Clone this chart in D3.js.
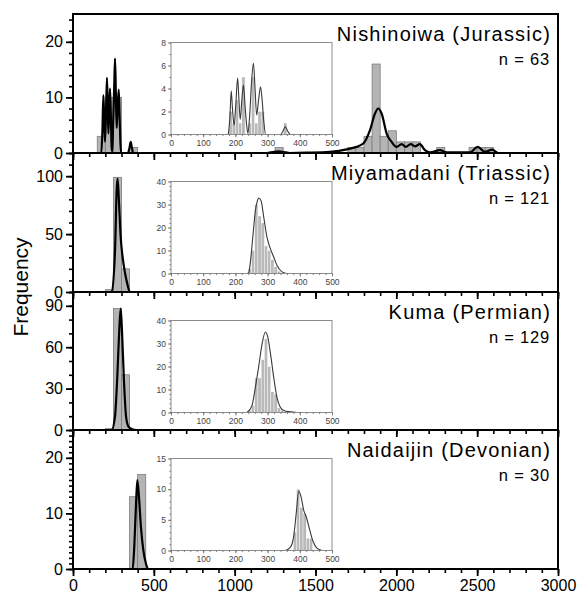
<!DOCTYPE html>
<html>
<head>
<meta charset="utf-8">
<script src="https://cdn.jsdelivr.net/npm/d3@7"></script>
<style>
body { margin: 0; background: #fff; }
svg { font-family: "Liberation Sans", Arial, sans-serif; }
</style>
</head>
<body>
<svg id="chart" width="577" height="595"></svg>
<script>
// Panel names and counts
var panelNames = ["Nishinoiwa (Jurassic)", "Miyamadani (Triassic)", "Kuma (Permian)", "Naidaijin (Devonian)"];
var panelN = ["n = 63", "n = 121", "n = 129", "n = 30"];

// Main histograms: [bin start, count], bins 50 wide
var mainBins1 = [[150,3],[200,10],[250,10],[350,1],[1250,1],[1700,1],[1750,1],[1800,3],[1850,16],[1900,3],[1950,4],[2000,2],[2050,2],[2100,2],[2250,1],[2450,1],[2500,1],[2550,1]];
var mainBins2 = [[200,2],[250,99],[300,20]];
var mainBins3 = [[200,1],[250,88],[300,40]];
var mainBins4 = [[350,13],[400,17]];

// Main density lines: [x, frequency]
var mainCurve1 = [[0,0],[175,0],[182,4],[188,10.4],[193,6],[198,2],[204,7],[210,13.5],[215,8],[219,3.5],[224,8],[229,11.6],[234,7],[239,1],[243,0.3],[248,5],[255,12],[260,17],[265,11],[270,4.5],[276,8],[283,11.4],[288,7],[293,2],[298,0],[340,0],[350,1],[357,2],[364,1],[372,0],[1200,0],[1270,0.3],[1340,0],[1450,0.05],[1590,0.2],[1693,0.65],[1795,1.7],[1837,4.1],[1868,7.1],[1888,8],[1909,7.1],[1940,3.5],[1971,2],[2002,1.1],[2033,1.6],[2059,1.1],[2088,1.6],[2115,1.2],[2146,1.6],[2177,0.5],[2208,0.1],[2270,0.5],[2311,0.1],[2455,0.1],[2503,1.1],[2548,0.2],[2593,0.6],[2630,0],[3000,0]];
var mainCurve2 = [[0,0],[240,0],[260,36],[270,88],[276,98],[284,79],[295,47.5],[307,30],[321,17],[336,7],[352,0],[3000,0]];
var mainCurve3 = [[0,0],[239,0],[260,10],[274,38.7],[286,72],[295,88],[303,72],[315,36],[328,10],[342,2.6],[363,0.7],[394,0],[3000,0]];
var mainCurve4 = [[0,0],[369,0],[379,4],[390,11.8],[398,16],[408,13],[420,7.6],[435,3.4],[451,1],[468,0],[3000,0]];

// Inset histograms: [bin start, count], bins 10 wide
var insetBins1 = [[180,2],[190,1],[200,3],[210,1],[220,5],[240,1],[250,5],[260,1],[270,2],[280,2],[350,1]];
var insetBins2 = [[240,2],[250,10],[260,30],[270,25],[280,22],[290,12],[300,10],[310,6],[320,3],[330,1]];
var insetBins3 = [[240,1],[250,3],[260,15],[270,15],[280,23],[290,32],[300,20],[310,9],[320,8],[330,2],[340,1]];
var insetBins4 = [[380,3],[390,10],[400,7],[410,6],[420,2],[430,2]];

// Inset density lines
var insetCurve1 = [[178,0],[183,1.5],[187,3.8],[191,2.2],[196,0.8],[201,2.5],[207,4.9],[211,3],[215,1.3],[220,3],[225,4.3],[230,2.5],[235,0.8],[239,0.1],[244,1.5],[250,4.5],[256,6.2],[261,4],[266,1.7],[272,3],[278,4.15],[283,3],[288,1.2],[294,0],[340,0],[348,0.3],[355,0.7],[362,0.3],[370,0]];
var insetCurve2 = [[236,0],[241,0.3],[246,4.3],[255,17.3],[262,27.3],[268,31.5],[272,32.8],[279.5,31.7],[288,24.5],[298,15.8],[308.5,10.8],[319,7.2],[329,3.6],[345,0.7],[358,0]];
var insetCurve3 = [[236,0],[251.5,3],[262,10.9],[272,19.6],[282.6,29.6],[293,35],[300,33.2],[308.5,26],[319,15.3],[329,6.6],[339.5,2.3],[350,0.9],[370.6,0.3],[391,0]];
var insetCurve4 = [[355,0],[370.6,0.5],[381,2.3],[389,6.1],[396.5,9.7],[403.7,8.8],[412,6.6],[420,5.5],[430.6,3.4],[441,1.5],[453,0.4],[469,0]];

// Axis ticks
var xTicks = [0, 500, 1000, 1500, 2000, 2500, 3000];
var yMax = [25, 120, 100, 25];
var yTicks = [[0,10,20],[0,50,100],[0,30,60,90],[0,10,20]];
var yMinorStep = [2, 10, 10, 1];
var insetXTicks = [0, 100, 200, 300, 400, 500];
var insetYMax = [8, 40, 40, 15];
var insetYTicks = [[0,2,4,6,8],[0,10,20,30,40],[0,10,20,30,40],[0,5,10,15]];
var insetYMinorStep = [1, 2, 2, 1];

var mainBins = [mainBins1, mainBins2, mainBins3, mainBins4];
var mainCurves = [mainCurve1, mainCurve2, mainCurve3, mainCurve4];
var insetBins = [insetBins1, insetBins2, insetBins3, insetBins4];
var insetCurves = [insetCurve1, insetCurve2, insetCurve3, insetCurve4];

// Layout
var panelTop = [14, 153, 292, 430],
    panelBottom = [153, 292, 430, 569];

var svg = d3.select("#chart");

var x = d3.scaleLinear().domain([0, 3000]).range([73, 558]);
var xIn = d3.scaleLinear().domain([0, 500]).range([171, 332]);

function styleAxis(g, color, width) {
    g.select(".domain").remove();
    g.selectAll("line").attr("stroke", color).attr("stroke-width", width);
}

panelNames.forEach(function(name, i) {
    var top = panelTop[i], bottom = panelBottom[i];
    var y = d3.scaleLinear().domain([0, yMax[i]]).range([bottom, top]);
    var g = svg.append("g").attr("class", "panel");

    // Main bars
    g.selectAll("rect.bar")
        .data(mainBins[i])
        .enter()
        .append("rect")
        .attr("class", "bar")
        .attr("x", function(d) { return x(d[0]); })
        .attr("width", function(d) { return x(d[0] + 50) - x(d[0]); })
        .attr("y", function(d) { return y(d[1]); })
        .attr("height", function(d) { return y(0) - y(d[1]); })
        .attr("fill", "#b4b4b4")
        .attr("stroke", "#7d7d7d")
        .attr("stroke-width", 0.8);

    // Main density line
    var line = d3.line()
        .x(function(d) { return x(d[0]); })
        .y(function(d) { return y(d[1]); })
        .curve(d3.curveMonotoneX);

    g.append("path")
        .datum(mainCurves[i])
        .attr("d", line)
        .attr("fill", "none")
        .attr("stroke", "#000")
        .attr("stroke-width", 2.2);

    // Inset
    var iTop = top + 28.5, iBottom = top + 120.5;
    var yIn = d3.scaleLinear().domain([0, insetYMax[i]]).range([iBottom, iTop]);
    var ig = g.append("g").attr("class", "inset");

    ig.selectAll("rect.ibar")
        .data(insetBins[i])
        .enter()
        .append("rect")
        .attr("class", "ibar")
        .attr("x", function(d) { return xIn(d[0]); })
        .attr("width", function(d) { return xIn(d[0] + 10) - xIn(d[0]); })
        .attr("y", function(d) { return yIn(d[1]); })
        .attr("height", function(d) { return yIn(0) - yIn(d[1]); })
        .attr("fill", "#b9b9b9")
        .attr("stroke", "#fff")
        .attr("stroke-width", 0.4);

    var iline = d3.line()
        .x(function(d) { return xIn(d[0]); })
        .y(function(d) { return yIn(d[1]); })
        .curve(d3.curveMonotoneX);

    ig.append("path")
        .datum(insetCurves[i])
        .attr("d", iline)
        .attr("fill", "none")
        .attr("stroke", "#3a3a3a")
        .attr("stroke-width", 1.1);

    ig.append("rect")
        .attr("x", xIn(0))
        .attr("y", iTop)
        .attr("width", xIn(500) - xIn(0))
        .attr("height", iBottom - iTop)
        .attr("fill", "none")
        .attr("stroke", "#8c8c8c")
        .attr("stroke-width", 1);

    // inset axes
    var ixMinor = d3.range(0, 501, 20);
    ig.append("g")
        .attr("transform", "translate(0," + iBottom + ")")
        .call(d3.axisBottom(xIn).tickValues(ixMinor).tickSize(1.6).tickFormat(""))
        .call(styleAxis, "#666", 0.8);
    ig.append("g")
        .attr("transform", "translate(0," + iBottom + ")")
        .call(d3.axisBottom(xIn).tickValues(insetXTicks).tickSize(3).tickPadding(2))
        .call(styleAxis, "#666", 0.8)
        .selectAll("text")
        .attr("font-size", 8.5)
        .attr("fill", "#444");

    var iyMinor = d3.range(0, insetYMax[i] + 0.01, insetYMinorStep[i]);
    ig.append("g")
        .attr("transform", "translate(" + xIn(0) + ",0)")
        .call(d3.axisLeft(yIn).tickValues(iyMinor).tickSize(1.6).tickFormat(""))
        .call(styleAxis, "#666", 0.8);
    ig.append("g")
        .attr("transform", "translate(" + xIn(0) + ",0)")
        .call(d3.axisLeft(yIn).tickValues(insetYTicks[i]).tickSize(3).tickPadding(2))
        .call(styleAxis, "#666", 0.8)
        .selectAll("text")
        .attr("font-size", 8.5)
        .attr("fill", "#444");

    // Main frame
    g.append("rect")
        .attr("x", x(0))
        .attr("y", top)
        .attr("width", x(3000) - x(0))
        .attr("height", bottom - top)
        .attr("fill", "none")
        .attr("stroke", "#000")
        .attr("stroke-width", 2);

    // Main x axis ticks
    var xMinor = d3.range(0, 3001, 100);
    g.append("g")
        .attr("transform", "translate(0," + bottom + ")")
        .call(d3.axisBottom(x).tickValues(xMinor).tickSize(4).tickFormat(""))
        .call(styleAxis, "#000", 1.6);
    var xa = g.append("g")
        .attr("transform", "translate(0," + bottom + ")")
        .call(d3.axisBottom(x).tickValues(xTicks).tickSize(7).tickPadding(4)
            .tickFormat(i === 3 ? d3.format("d") : ""))
        .call(styleAxis, "#000", 1.8);
    xa.selectAll("text")
        .attr("font-size", 16)
        .attr("fill", "#000");

    // Main y axis ticks
    var yMinor = d3.range(0, yMax[i] + 0.01, yMinorStep[i]);
    g.append("g")
        .attr("transform", "translate(" + x(0) + ",0)")
        .call(d3.axisLeft(y).tickValues(yMinor).tickSize(4).tickFormat(""))
        .call(styleAxis, "#000", 1.6);
    g.append("g")
        .attr("transform", "translate(" + x(0) + ",0)")
        .call(d3.axisLeft(y).tickValues(yTicks[i]).tickSize(7).tickPadding(3))
        .call(styleAxis, "#000", 1.8)
        .selectAll("text")
        .attr("font-size", 16)
        .attr("fill", "#000");

    // Labels
    g.append("text")
        .attr("x", 551)
        .attr("y", top + 26.5)
        .attr("text-anchor", "end")
        .attr("font-size", 20)
        .attr("letter-spacing", 1.2)
        .text(name);

    g.append("text")
        .attr("x", 550)
        .attr("y", top + 51)
        .attr("text-anchor", "end")
        .attr("font-size", 16.5)
        .attr("letter-spacing", 0.8)
        .text(panelN[i]);
});

svg.append("text")
    .attr("transform", "translate(28,287) rotate(-90)")
    .attr("text-anchor", "middle")
    .attr("font-size", 21)
    .text("Frequency");
</script>
</body>
</html>
